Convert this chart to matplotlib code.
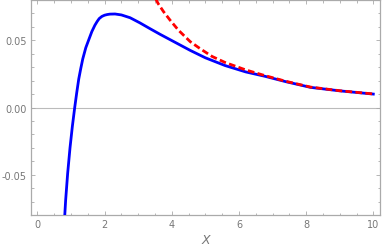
import matplotlib.pyplot as plt
from matplotlib.ticker import MultipleLocator

# values
x_blue = [0.80, 0.84, 0.90, 0.97, 1.04, 1.11, 1.17, 1.23, 1.29, 1.35, 1.44, 1.54, 1.62,
          1.71, 1.78, 1.84, 1.92, 2.0, 2.08, 2.16, 2.31, 2.5, 2.76, 3.05, 3.35, 3.65,
          3.95, 4.25, 4.55, 5.0, 5.59, 6.2, 6.78, 7.4, 8.13, 9.0, 10.0]
y_blue = [-0.086, -0.069, -0.049, -0.030, -0.014, 0.0, 0.011, 0.0212, 0.029, 0.0362,
          0.0445, 0.0512, 0.0565, 0.0612, 0.0641, 0.0662, 0.0678, 0.0687, 0.0692, 0.0695,
          0.0696, 0.0689, 0.0668, 0.0630, 0.0587, 0.0545, 0.0505, 0.0465, 0.0425, 0.0370,
          0.0312, 0.0265, 0.0232, 0.0192, 0.0150, 0.0124, 0.0100]

x_red = [3.48, 3.59, 3.75, 3.95, 4.2, 4.55, 4.85, 5.2, 5.59, 6.2, 6.78, 7.4, 8.13, 9.0, 10.0]
y_red = [0.083, 0.0775, 0.0715, 0.065, 0.0575, 0.049, 0.0437, 0.038, 0.0335, 0.028,
         0.0237, 0.0195, 0.0152, 0.0125, 0.0101]

fig = plt.figure(figsize=(3.82, 2.53), dpi=100)
ax = fig.add_axes([0.0804, 0.1462, 0.9144, 0.8498])

ax.axhline(0, color='#bbbbbb', lw=0.8, zorder=1)
ax.plot(x_blue, y_blue, color='blue', lw=2.0, solid_joinstyle='round', zorder=3)
ax.plot(x_red, y_red, color='red', lw=2.0, ls=(0, (2.4, 1.2)), zorder=4)

ax.set_xlim(-0.2, 10.2)
ax.set_ylim(-0.08, 0.08)

ax.xaxis.set_major_locator(MultipleLocator(2))
ax.xaxis.set_minor_locator(MultipleLocator(0.5))
ax.yaxis.set_major_locator(MultipleLocator(0.05))
ax.yaxis.set_minor_locator(MultipleLocator(0.01))
ax.yaxis.set_major_formatter(lambda v, p: '%.2f' % v if abs(v) > 1e-9 else '0.00')

for s in ax.spines.values():
    s.set_color('#aaaaaa')
    s.set_linewidth(0.9)

ax.tick_params(which='both', direction='in', top=True, right=True, color='#aaaaaa',
               labelcolor='#777777', labelsize=7, width=0.6)
ax.tick_params(which='major', length=3.2, pad=3)
ax.tick_params(which='minor', length=1.8)

ax.set_xlabel('X', style='italic', color='#777777', fontsize=9, labelpad=3)

fig.savefig('out.png', dpi=100)
